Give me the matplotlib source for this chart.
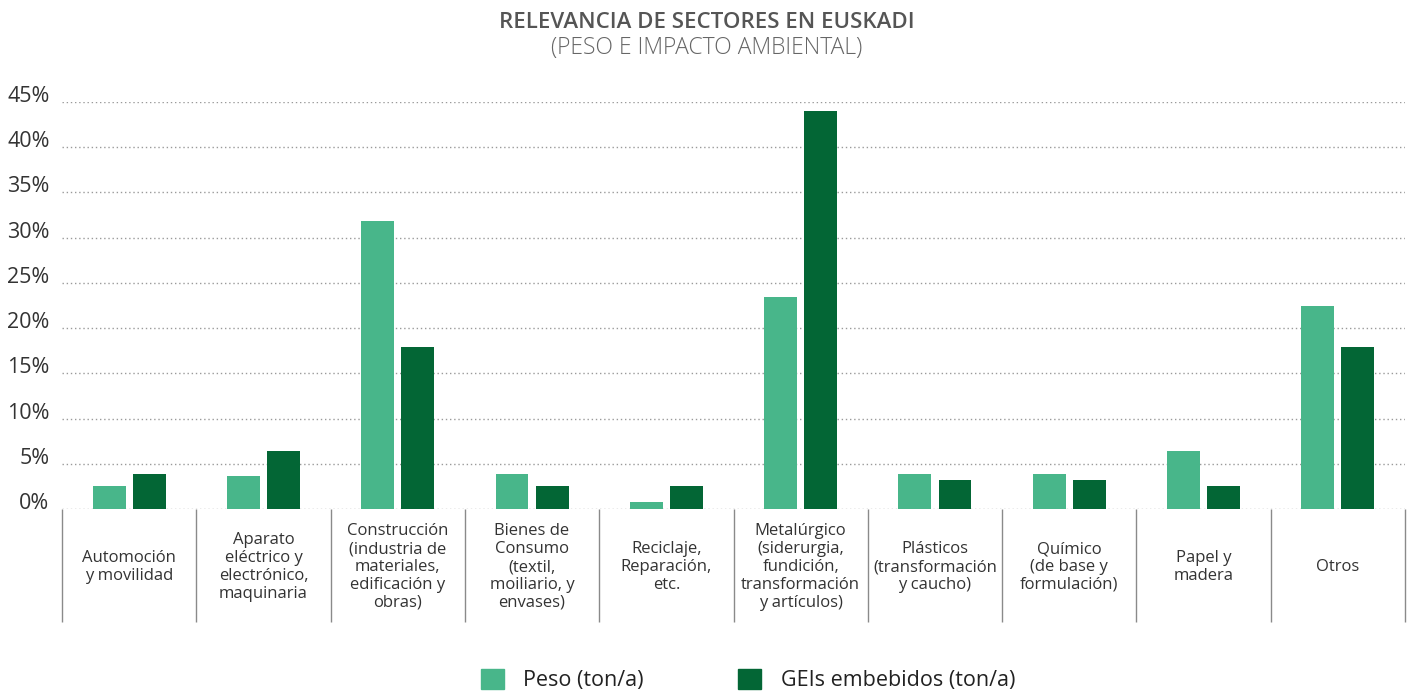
import numpy as np
import matplotlib.pyplot as plt
from matplotlib.patches import Patch

plt.rcParams["font.family"] = ["Open Sans", "DejaVu Sans"]

sectores = [
    "Automoción\ny movilidad",
    "Aparato\neléctrico y\nelectrónico,\nmaquinaria",
    "Construcción\n(industria de\nmateriales,\nedificación y\nobras)",
    "Bienes de\nConsumo\n(textil,\nmoiliario, y\nenvases)",
    "Reciclaje,\nReparación,\netc.",
    "Metalúrgico\n(siderurgia,\nfundición,\ntransformación\ny artículos)",
    "Plásticos\n(transformación\ny caucho)",
    "Químico\n(de base y\nformulación)",
    "Papel y\nmadera",
    "Otros",
]
peso = [2.5, 3.7, 31.8, 3.9, 0.8, 23.4, 3.9, 3.9, 6.4, 22.5]
geis = [3.9, 6.4, 17.9, 2.5, 2.5, 44.0, 3.2, 3.2, 2.5, 17.9]
yticks = [0, 5, 10, 15, 20, 25, 30, 35, 40, 45]

c_peso = "#48B68A"
c_geis = "#036635"

fig = plt.figure(figsize=(14.13, 6.95), dpi=100)
ax = fig.add_axes([62 / 1413, 1 - 509 / 695, (1405 - 62) / 1413, (509 - 102) / 695])

x = np.arange(len(sectores))
w = 0.245
ax.bar(x - 0.149, peso, width=w, color=c_peso, zorder=3)
ax.bar(x + 0.149, geis, width=w, color=c_geis, zorder=3)

ax.set_xlim(-0.5, len(sectores) - 0.5)
ax.set_ylim(0, 45)

# separadores de categorias como ticks largos
ax.set_xticks(np.arange(-0.5, len(sectores)))
ax.set_xticklabels([])
ax.tick_params(axis="x", length=81, width=1, color="#8a8a8a", direction="out")

for i, s in enumerate(sectores):
    ax.annotate(s, xy=(i, 0), xycoords=("data", "axes fraction"),
                xytext=(0, -41.8), textcoords="offset points",
                ha="center", va="center", fontsize=12, color="#333333",
                linespacing=1.15)

ax.set_yticks(yticks)
ax.set_yticklabels([f"{v}%" for v in yticks])
ax.tick_params(axis="y", length=0, pad=9, labelsize=15.5, labelcolor="#333333")
for lbl in ax.get_yticklabels():
    lbl.set_va("baseline")

ax.yaxis.grid(True, linestyle=(0, (1, 2)), color="#9a9a9a", linewidth=1, zorder=0)
ax.xaxis.grid(False)
for sp in ax.spines.values():
    sp.set_visible(False)

fig.text(0.5, 1 - 22 / 695, "RELEVANCIA DE SECTORES EN EUSKADI", ha="center", va="center",
         fontsize=16, fontweight="semibold", color="#555555")
fig.text(0.5, 1 - 48 / 695, "(PESO E IMPACTO AMBIENTAL)", ha="center", va="center",
         fontsize=16.5, fontweight="light", color="#666666")

handles = [Patch(color=c_peso, label="Peso (ton/a)"),
           Patch(color=c_geis, label="GEIs embebidos (ton/a)")]
fig.legend(handles=handles, loc="center", bbox_to_anchor=(748 / 1413, 1 - 680 / 695),
           ncol=2, frameon=False, fontsize=15.5, handlelength=1.07, handleheight=1.07,
           handletextpad=0.9, columnspacing=4.4, labelcolor="#222222")

fig.savefig("out.png", dpi=100)
